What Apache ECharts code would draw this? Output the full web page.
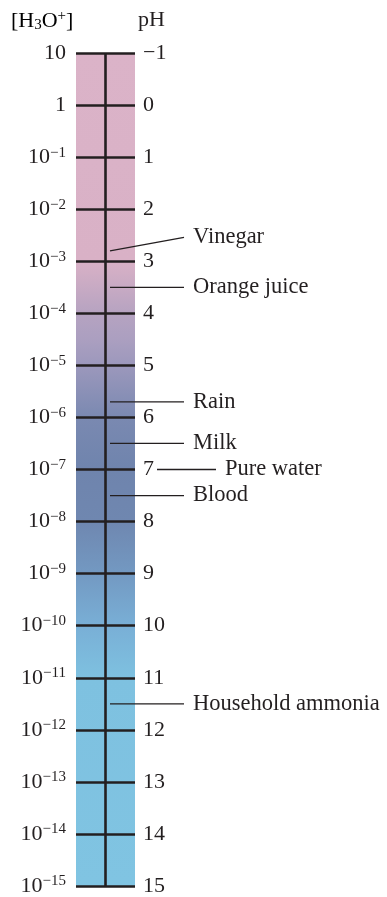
<!DOCTYPE html>
<html>
<head>
<meta charset="utf-8">
<script src="https://cdn.jsdelivr.net/npm/echarts@6/dist/echarts.min.js"></script>
<style>
html,body{margin:0;padding:0;background:#fff;}
#chart{width:387px;height:897px;}
</style>
</head>
<body>
<div id="chart"></div>
<script>
// ---- data ----
var pHTicks = [-1,0,1,2,3,4,5,6,7,8,9,10,11,12,13,14,15];
var substances = ['Vinegar','Orange juice','Rain','Milk','Pure water','Blood','Household ammonia'];
var substancePH = [2.8, 3.5, 5.7, 6.5, 7, 7.5, 11.5];

// ---- layout / style constants ----
var INK = '#231f20';
var FONT = '"Liberation Serif", "Times New Roman", serif';
var FS = 22;
var pHMin = pHTicks[0], pHMax = pHTicks[pHTicks.length - 1];
var labelShift = { 'Vinegar': -0.26 };   // vinegar's text sits a little higher
var leaderInner = [34, 108];             // px from bar's left edge
var leaderOuter = [81, 140];             // pure water: after its pH label

function minus(n){ return String(n).replace('-', '\u2212'); }

var chart = echarts.init(document.getElementById('chart'));

var leaderSeries = substances.map(function(name, i){
  var p = substancePH[i];
  var xs = (name === 'Pure water') ? leaderOuter : leaderInner;
  var endP = p + (labelShift[name] || 0);
  return {
    type: 'line', name: name, xAxisIndex: 1, yAxisIndex: 2, z: 4,
    symbol: 'none', silent: true,
    lineStyle: { color: INK, width: 1.3 },
    data: [[xs[0], p], [xs[1], endP]],
    endLabel: { show: true, formatter: name, distance: 9,
      color: INK, fontFamily: FONT, fontSize: 22.5 }
  };
});

var rich = {
  n: { fontFamily: FONT, fontSize: FS, color: INK, lineHeight: 24 },
  s: { fontFamily: FONT, fontSize: 15, color: INK, verticalAlign: 'top', lineHeight: 15 },
  b: { fontFamily: FONT, fontSize: 15, color: INK, verticalAlign: 'bottom', lineHeight: 15 }
};

var option = {
  animation: false,
  grid: [
    { left: 76, top: 53, width: 59, height: 833 },
    { left: 76, top: 53, right: 0, height: 833 }
  ],
  xAxis: [
    { type: 'value', min: 0, max: 1, show: false, gridIndex: 0 },
    { type: 'value', min: 0, max: 311, show: false, gridIndex: 1 }
  ],
  yAxis: [
    { type: 'value', gridIndex: 0, min: pHMin, max: pHMax, interval: 1, inverse: true, position: 'left',
      axisLine: { show: false }, axisTick: { show: false },
      splitLine: { show: true, lineStyle: { color: INK, width: 2.6 } },
      axisLabel: { margin: 10, rich: rich,
        formatter: function(v){
          if (v === -1) return '{n|10}';
          if (v === 0) return '{n|1}';
          return '{n|10}{s|' + minus(-v) + '}';
        } },
      z: 2
    },
    { type: 'value', gridIndex: 0, min: pHMin, max: pHMax, interval: 1, inverse: true, position: 'right',
      axisLine: { show: false }, axisTick: { show: false }, splitLine: { show: false },
      axisLabel: { margin: 8, color: INK, fontFamily: FONT, fontSize: FS,
        formatter: function(v){ return minus(v); } }
    },
    { type: 'value', gridIndex: 1, min: pHMin, max: pHMax, inverse: true, show: false }
  ],
  graphic: [
    { type: 'text', left: 11, top: 9, silent: true,
      style: { text: '{n|[H}{b|3}{n|O}{s|+}{n|]}', rich: rich } },
    { type: 'text', left: 138, top: 9, silent: true,
      style: { text: 'pH', fill: INK, font: FS + 'px ' + FONT } }
  ],
  series: [
    { type: 'custom', z: -5, silent: true, xAxisIndex: 0, yAxisIndex: 0,
      data: [[pHMin, pHMax]],
      renderItem: function(params, api){
        var p0 = api.coord([0, api.value(0)]);
        var p1 = api.coord([1, api.value(1)]);
        return { type: 'rect',
          shape: { x: p0[0], y: p0[1], width: p1[0] - p0[0], height: p1[1] - p0[1] },
          style: { fill: new echarts.graphic.LinearGradient(0, 0, 0, 1, [
            { offset: 0, color: '#dbb3c8' },
            { offset: 0.25, color: '#d9b1c6' },
            { offset: 0.3125, color: '#b6a3c1' },
            { offset: 0.34375, color: '#ab9fc0' },
            { offset: 0.375, color: '#9c98bc' },
            { offset: 0.4375, color: '#7a89b1' },
            { offset: 0.5, color: '#6f84ad' },
            { offset: 0.5625, color: '#6f87b0' },
            { offset: 0.625, color: '#7399c2' },
            { offset: 0.6875, color: '#79afd6' },
            { offset: 0.75, color: '#7ec1e0' },
            { offset: 1, color: '#80c4e2' }
          ]) } };
      }
    },
    { type: 'line', z: 3, symbol: 'none', silent: true, xAxisIndex: 0, yAxisIndex: 0,
      lineStyle: { color: INK, width: 2.6 },
      data: [[0.5, pHMin], [0.5, pHMax]] }
  ].concat(leaderSeries)
};
chart.setOption(option);
</script>
</body>
</html>
